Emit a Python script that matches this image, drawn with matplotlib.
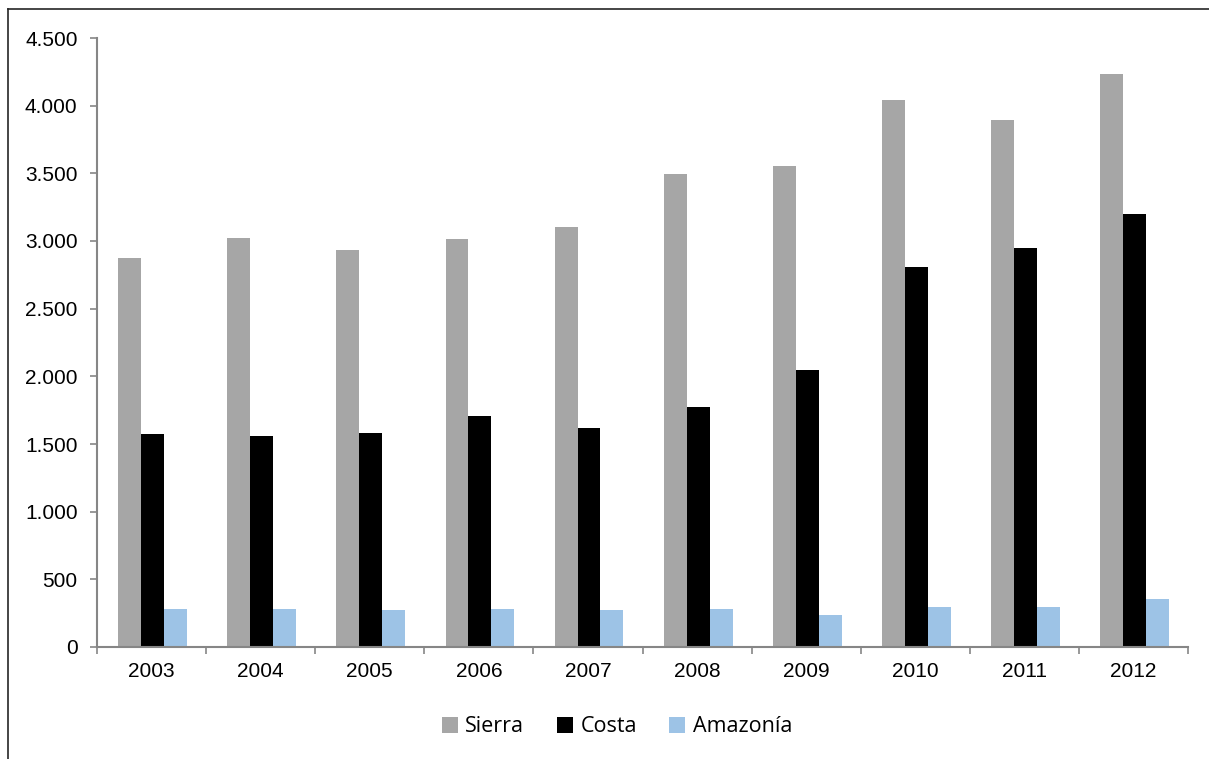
import numpy as np
import matplotlib
matplotlib.use('Agg')
import matplotlib.pyplot as plt
from matplotlib.patches import Patch
from matplotlib.lines import Line2D
from matplotlib.ticker import FuncFormatter

years = ['2003', '2004', '2005', '2006', '2007', '2008', '2009', '2010', '2011', '2012']
sierra = [2874, 3024, 2933, 3015, 3103, 3494, 3551, 4040, 3897, 4237]
costa = [1575, 1560, 1582, 1708, 1619, 1770, 2046, 2811, 2951, 3197]
amazonia = [284, 284, 270, 284, 277, 284, 233, 295, 292, 351]

series = ['Sierra', 'Costa', 'Amazonía']
colors = ['#A6A6A6', '#000000', '#9DC3E6']

plt.rcParams['font.family'] = ['Liberation Sans', 'DejaVu Sans']

W, H = 1209, 759
fig = plt.figure(figsize=(W / 100, H / 100), dpi=100)
ax = fig.add_axes([97 / W, 1 - 647 / H, (1188 - 97) / W, (647 - 38) / H])

x = np.arange(len(years))
bw = 0.21
for i, (vals, c) in enumerate(zip([sierra, costa, amazonia], colors)):
    ax.bar(x + (i - 1) * bw + 0.01, vals, width=bw, color=c, linewidth=0)

ax.set_xlim(-0.5, len(years) - 0.5)
ax.set_ylim(0, 4500)
ax.set_yticks(np.arange(0, 4501, 500))
ax.yaxis.set_major_formatter(FuncFormatter(lambda v, p: f'{int(v):,}'.replace(',', '.')))

# category boundaries get the tick marks, labels sit in the middle
ax.set_xticks(np.arange(-0.5, len(years), 1.0))
ax.set_xticklabels([])
ax.set_xticks(x, minor=True)
ax.set_xticklabels(years, minor=True)

for s in ['top', 'right']:
    ax.spines[s].set_visible(False)
for s in ['left', 'bottom']:
    ax.spines[s].set_color('#868686')
    ax.spines[s].set_linewidth(1.5)

ax.tick_params(axis='both', which='major', direction='out', length=5,
               width=1.2, color='#868686')
ax.tick_params(axis='y', labelsize=15, pad=9)
ax.tick_params(axis='x', which='minor', length=0, labelsize=15, pad=11)

handles = [Patch(facecolor=c, edgecolor='none') for c in colors]
fig.legend(handles, series, loc='center', bbox_to_anchor=(617 / W, 1 - 727 / H),
           ncol=3, frameon=False, handlelength=0.75, handleheight=0.75,
           handletextpad=0.35, columnspacing=1.5,
           prop={'family': 'Open Sans', 'size': 15.5})

# outer frame (only left and top edges fall inside the image)
fig.add_artist(Line2D([8 / W, 8 / W], [0, 1 - 9 / H], transform=fig.transFigure,
                      color='#262626', linewidth=1.2))
fig.add_artist(Line2D([8 / W, 1], [1 - 9 / H, 1 - 9 / H], transform=fig.transFigure,
                      color='#262626', linewidth=1.2))

fig.savefig('out.png', dpi=100)
